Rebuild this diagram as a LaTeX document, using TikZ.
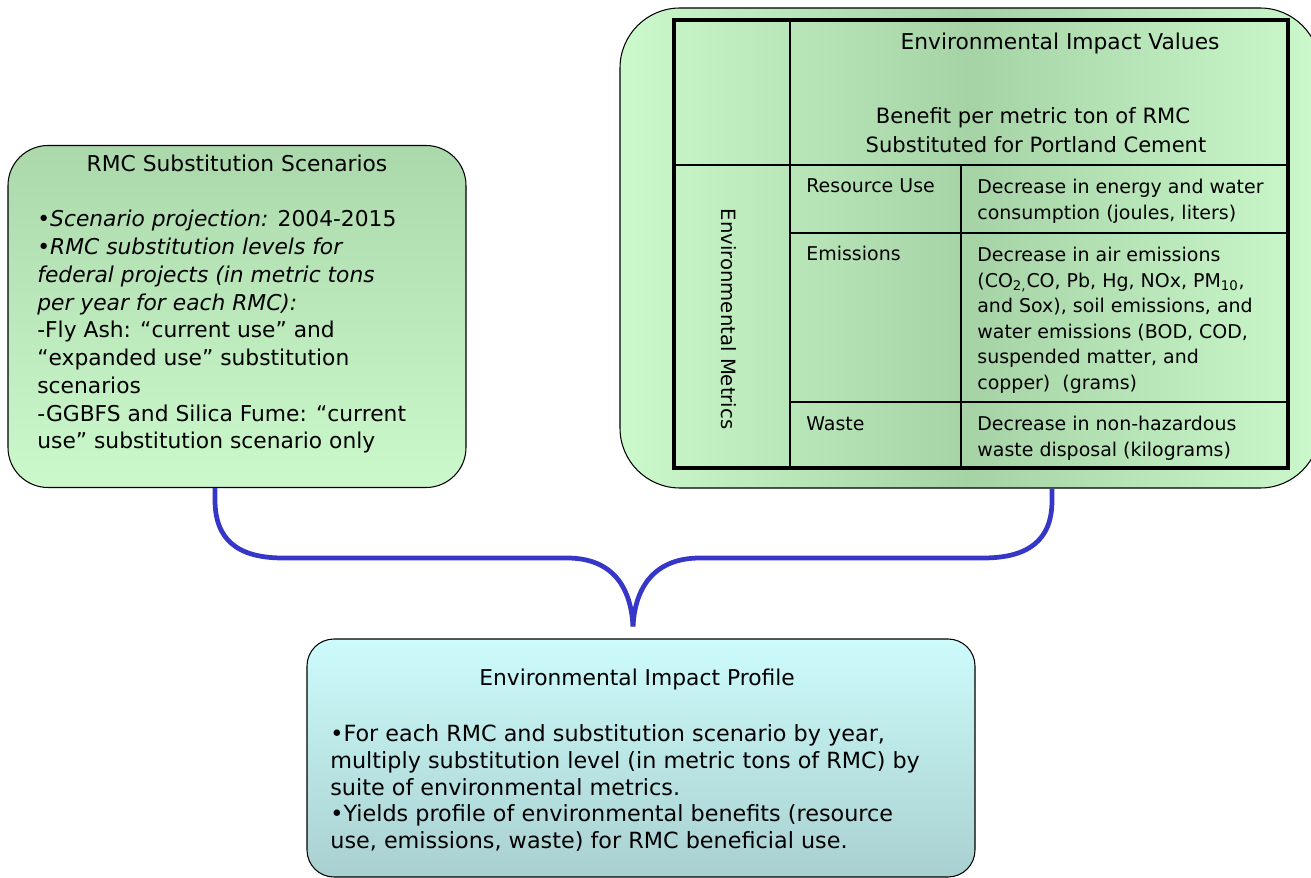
\documentclass[tikz,border=0pt]{standalone}
\usepackage{fontspec}
\setmainfont{DejaVu Sans}
\usetikzlibrary{calc, positioning}

\definecolor{gdark}{HTML}{A6D3A6}
\definecolor{glight}{HTML}{CCF9CC}
\definecolor{cdark}{HTML}{A9D0D0}
\definecolor{clight}{HTML}{CDFBFB}
\definecolor{braceblue}{HTML}{3636C8}

\newdimen\pxu \pxu=0.02cm

\begin{document}
\begin{tikzpicture}[x=0.02cm, y=-0.02cm,
    box/.style={draw=black, line width=0.6pt, inner sep=0pt},
    boxtext/.style={font=\fontsize{12.4}{15.8}\selectfont, inner sep=0pt},
    celltext/.style={font=\fontsize{10.8}{14.5}\selectfont, inner sep=0pt, align=left},
    headtext/.style={font=\fontsize{12}{14}\selectfont, inner sep=0pt},
    bracelink/.style={draw=braceblue, line width=2.7pt, line join=round}]

    \useasboundingbox (0,0) rectangle (1311,878);

    % Left box (substitution scenarios)
    \node[box, rounded corners=40\pxu, top color=gdark!85!glight, bottom color=glight,
          minimum width=458\pxu, minimum height=342\pxu] (scen) at (237,316.5) {};
    \node[boxtext, anchor=base] (scentitle) at (237,172) {RMC Substitution Scenarios};
    \node[boxtext, anchor=north west, align=left] (scenbody) at (37,210)
        {•\textit{Scenario projection:} 2004-2015\\
         •\textit{RMC substitution levels for}\\
         \textit{federal projects (in metric tons}\\
         \textit{per year for each RMC):}\\
         -Fly Ash: “current use” and\\
         “expanded use” substitution\\
         scenarios\\
         -GGBFS and Silica Fume: “current\\
         use” substitution scenario only};

    % Right box (impact values table)
    \node[box, rounded corners=60\pxu, left color=glight, right color=glight, middle color=gdark,
          minimum width=700\pxu, minimum height=480\pxu] (vals) at (970,248) {};
    \draw[line width=0.8pt] (790,20) -- (790,468)
        (674,165) -- (1288,165)
        (961,165) -- (961,468)
        (790,233) -- (1288,233)
        (790,402) -- (1288,402);
    \draw[line width=2.3pt] (674,20) rectangle (1288,468);

    \node[headtext, anchor=base, font=\fontsize{12.4}{14}\selectfont] (valtitle) at (1060,50) {Environmental Impact Values};
    \node[headtext, anchor=base] (benefit) at (1033,124) {Benefit per metric ton of RMC};
    \node[headtext, anchor=base] (subst) at (1036,153) {Substituted for Portland Cement};

    \node[celltext, rotate=-90, font=\fontsize{11.2}{13}\selectfont] (metrics) at (729,319) {Environmental Metrics};

    \node[celltext, anchor=base west] (resuse) at (806,193) {Resource Use};
    \node[celltext, anchor=north west] (resval) at (977,179)
        {Decrease in energy and water\\consumption (joules, liters)};
    \node[celltext, anchor=base west] (emis) at (806,261) {Emissions};
    \node[celltext, anchor=north west] (emisval) at (977,247)
        {Decrease in air emissions\\
         (CO\textsubscript{2,}CO, Pb, Hg, NOx, PM\textsubscript{10},\\
         and Sox), soil emissions, and\\
         water emissions (BOD, COD,\\
         suspended matter, and\\
         copper)~~(grams)};
    \node[celltext, anchor=base west] (waste) at (806,430) {Waste};
    \node[celltext, anchor=north west] (wasteval) at (977,416)
        {Decrease in non-hazardous\\waste disposal (kilograms)};

    % Bottom box (impact profile)
    \node[box, rounded corners=27\pxu, top color=clight, bottom color=cdark,
          minimum width=668\pxu, minimum height=238\pxu] (prof) at (641,758) {};
    \node[boxtext, anchor=base] (proftitle) at (637,685) {Environmental Impact Profile};
    \node[boxtext, anchor=north west, align=left, font=\fontsize{12.7}{15.3}\selectfont] (profbody) at (330,724)
        {•For each RMC and substitution scenario by year,\\
         multiply substitution level (in metric tons of RMC) by\\
         suite of environmental metrics.\\
         •Yields profile of environmental benefits (resource\\
         use, emissions, waste) for RMC beneficial use.};

    % Brace joining both boxes into the profile
    \coordinate (ltop) at ($(scen.south)+(-22,0)$);
    \coordinate (rtop) at ($(vals.south)+(82,0)$);
    \coordinate (tip) at ($(prof.north)+(-8,-12)$);
    \draw[bracelink] (ltop) -- ++(0,12) .. controls +(0,40) and +(-45,0) .. (283,558)
        -- (567,558) .. controls +(45,0) and +(-2,-40) .. (tip);
    \draw[bracelink] (rtop) -- ++(0,12) .. controls +(0,40) and +(45,0) .. (983,558)
        -- (700,558) .. controls +(-45,0) and +(2,-40) .. (tip);
\end{tikzpicture}
\end{document}
